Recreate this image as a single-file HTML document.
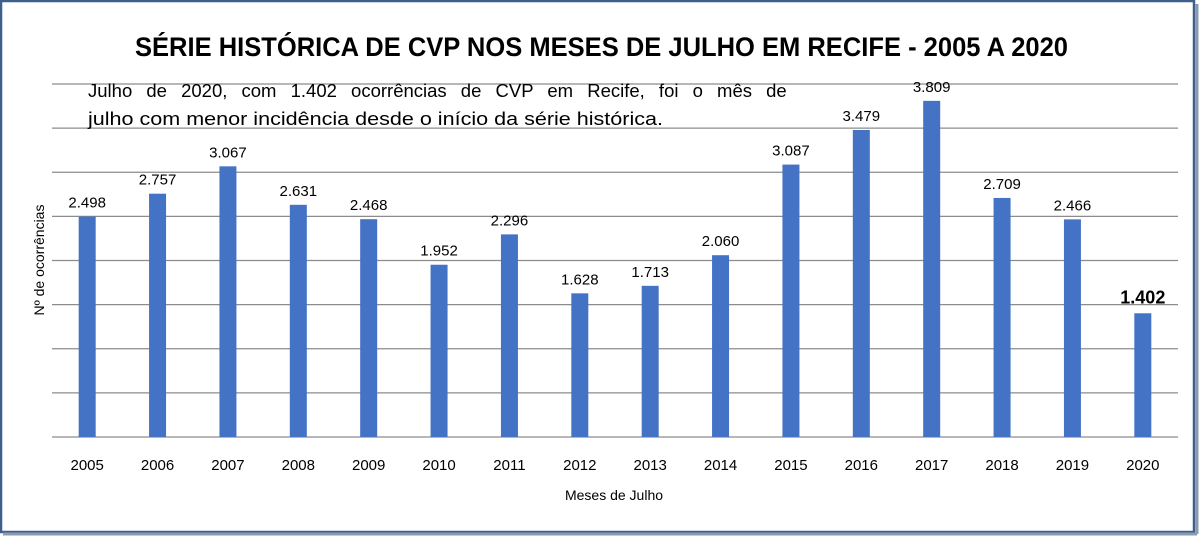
<!DOCTYPE html>
<html><head><meta charset="utf-8"><style>
body{margin:0;width:1200px;height:536px;overflow:hidden;background:#fff;font-family:"Liberation Sans",sans-serif}
</style></head><body>
<svg width="1200" height="536" xmlns="http://www.w3.org/2000/svg">
<rect x="1" y="1" width="1193" height="531" fill="#fff" stroke="#3f5f8c" stroke-width="2.5"/>
<line x1="3" y1="534" x2="1197" y2="534" stroke="#8a9ab0" stroke-width="3"/>
<line x1="1197" y1="4" x2="1197" y2="534" stroke="#8a9ab0" stroke-width="3"/>
<text x="135" y="56" font-size="27" font-weight="bold" fill="#000" textLength="933" lengthAdjust="spacingAndGlyphs">SÉRIE HISTÓRICA DE CVP NOS MESES DE JULHO EM RECIFE - 2005 A 2020</text>
<g id="grid"></g>
<g id="bars"></g>
<g id="labels"></g>
<text x="88" y="97" font-size="18.5" fill="#000" word-spacing="9">Julho de 2020, com 1.402 ocorrências de CVP em Recife, foi o mês de</text>
<text x="88" y="125" font-size="18.5" fill="#000" textLength="575" lengthAdjust="spacingAndGlyphs">julho com menor incidência desde o início da série histórica.</text>
<text transform="translate(44,260) rotate(-90)" text-anchor="middle" font-size="14" fill="#000">Nº de ocorrências</text>
<text x="614" y="500" text-anchor="middle" font-size="14" fill="#000">Meses de Julho</text>
</svg>
<script>
const categories=["2005","2006","2007","2008","2009","2010","2011","2012","2013","2014","2015","2016","2017","2018","2019","2020"];
const values=[2498,2757,3067,2631,2468,1952,2296,1628,1713,2060,3087,3479,3809,2709,2466,1402];
const valueLabels=["2.498","2.757","3.067","2.631","2.468","1.952","2.296","1.628","1.713","2.060","3.087","3.479","3.809","2.709","2.466","1.402"];
const yTicks=[0,500,1000,1500,2000,2500,3000,3500,4000];
const NS="http://www.w3.org/2000/svg";
const x0=52,x1=1178,yB=437,yT=84,yMax=4000;
const step=(x1-x0)/categories.length;
const xC=i=>x0+step*(i+0.5);
const yS=v=>yB-(v/yMax)*(yB-yT);
function mk(t,a,p){const e=document.createElementNS(NS,t);for(const k in a)e.setAttribute(k,a[k]);p.appendChild(e);return e;}
const g=document.getElementById('grid'),b=document.getElementById('bars'),l=document.getElementById('labels');
yTicks.forEach(v=>{const e=mk('line',{x1:x0,x2:x1,y1:yS(v),y2:yS(v),stroke:'#8c8c8c','stroke-width':1.2},g);

});
categories.forEach((c,i)=>{
const r=mk('rect',{x:xC(i)-8.5,y:yS(values[i]),width:17,height:yB-yS(values[i]),fill:'#4472c4'},b);


const last=i===categories.length-1;
const t=mk('text',{x:xC(i),y:yS(values[i])-(last?10:9),'text-anchor':'middle','font-size':last?18:15,'font-weight':last?'bold':'normal',fill:'#000'},l);
t.textContent=valueLabels[i];


const x=mk('text',{x:xC(i),y:470,'text-anchor':'middle','font-size':15,fill:'#000'},l);
x.textContent=c;


});
</script>
</body></html>
